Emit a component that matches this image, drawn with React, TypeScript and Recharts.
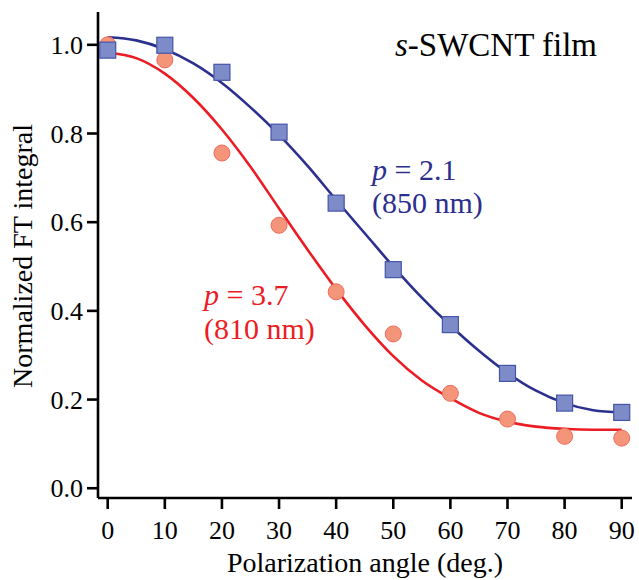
import React from 'react';
import { ComposedChart, XAxis, YAxis, Scatter, Line } from 'recharts';

// Measured data points (polarization angle in degrees)
const angles = [0, 10, 20, 30, 40, 50, 60, 70, 80, 90];
const blueValues = [0.988, 0.999, 0.938, 0.803, 0.643, 0.493, 0.369, 0.259, 0.192, 0.171];
const redValues = [1.0, 0.966, 0.756, 0.593, 0.443, 0.348, 0.214, 0.156, 0.117, 0.113];

// Fitted curves every 5 degrees
const fitAngles = [0, 5, 10, 15, 20, 25, 30, 35, 40, 45, 50, 55, 60, 65, 70, 75, 80, 85, 90];
const blueFit = [1.017, 1.01, 0.99, 0.958, 0.914, 0.859, 0.797, 0.727, 0.65, 0.575, 0.5, 0.43, 0.367, 0.31, 0.26, 0.22, 0.192, 0.176, 0.171];
const redFit = [0.982, 0.97, 0.935, 0.88, 0.809, 0.725, 0.631, 0.538, 0.449, 0.368, 0.298, 0.243, 0.203, 0.17, 0.15, 0.139, 0.134, 0.132, 0.132];

const xTicks = [0, 10, 20, 30, 40, 50, 60, 70, 80, 90];
const yTicks = [0, 0.2, 0.4, 0.6, 0.8, 1.0];

const FONT = 'Liberation Serif';
const BLUE_LINE = '#2b2f8e';
const RED_LINE = '#ec1c24';
const BLUE_FILL = '#7d8cc8';
const BLUE_EDGE = '#4654a8';
const RED_FILL = '#f4957a';
const RED_EDGE = '#ee6b5c';

const X_DOMAIN: [number, number] = [-1.7, 91.8];
const Y_DOMAIN: [number, number] = [-0.022, 1.074];

const SquareShape = (props: any) => {
  const { cx, cy } = props;
  if (cx == null || cy == null) return null;
  const s = 16;
  return <rect x={cx - s / 2} y={cy - s / 2} width={s} height={s} fill={BLUE_FILL} stroke={BLUE_EDGE} strokeWidth={1.2} />;
};

const CircleShape = (props: any) => {
  const { cx, cy } = props;
  if (cx == null || cy == null) return null;
  return <circle cx={cx} cy={cy} r={8} fill={RED_FILL} stroke={RED_EDGE} strokeWidth={1} />;
};

const XTick = (props: any) => {
  const { x, y, payload } = props;
  return (
    <text x={x} y={y} dy="0.71em" textAnchor="middle" fontFamily={FONT} fontSize={26} fill="#000">
      {String(payload.value)}
    </text>
  );
};

const YTick = (props: any) => {
  const { x, y, payload } = props;
  return (
    <text x={x} y={y} dy="0.355em" textAnchor="end" fontFamily={FONT} fontSize={26} fill="#000">
      {Number(payload.value).toFixed(1)}
    </text>
  );
};

export default function App() {
  const bluePts = angles.map((a, i) => ({ x: a, y: blueValues[i] }));
  const redPts = angles.map((a, i) => ({ x: a, y: redValues[i] }));
  const blueCurve = fitAngles.map((a, i) => ({ x: a, y: blueFit[i] }));
  const redCurve = fitAngles.map((a, i) => ({ x: a, y: redFit[i] }));

  const axisStroke = { stroke: '#000', strokeWidth: 2.6 };

  return (
    <div style={{ position: 'absolute', left: 0, top: 0, width: 639, height: 580, background: '#fff', fontFamily: FONT }}>
      <ComposedChart width={639} height={580} margin={{ top: 12, right: 7, bottom: 0, left: 0 }}>
        <XAxis
          xAxisId="b"
          type="number"
          dataKey="x"
          domain={X_DOMAIN}
          ticks={xTicks}
          allowDataOverflow
          height={82}
          tickSize={11}
          tickMargin={12}
          axisLine={axisStroke}
          tickLine={axisStroke}
          tick={<XTick />}
        />
        <XAxis
          xAxisId="t"
          orientation="top"
          type="number"
          dataKey="x"
          domain={X_DOMAIN}
          allowDataOverflow
          height={0}
          tick={false}
          tickLine={false}
          axisLine={axisStroke}
        />
        <YAxis
          yAxisId="l"
          type="number"
          dataKey="y"
          domain={Y_DOMAIN}
          ticks={yTicks}
          allowDataOverflow
          width={98}
          tickSize={11}
          tickMargin={4}
          axisLine={axisStroke}
          tickLine={axisStroke}
          tick={<YTick />}
        />
        <YAxis
          yAxisId="r"
          orientation="right"
          type="number"
          dataKey="y"
          domain={Y_DOMAIN}
          allowDataOverflow
          width={0}
          tick={false}
          tickLine={false}
          axisLine={axisStroke}
        />
        <Scatter xAxisId="b" yAxisId="l" data={redPts} shape={CircleShape} isAnimationActive={false} />
        <Scatter xAxisId="b" yAxisId="l" data={bluePts} shape={SquareShape} isAnimationActive={false} />
        <Line xAxisId="b" yAxisId="l" data={redCurve} dataKey="y" type="monotone" stroke={RED_LINE} strokeWidth={2.6} dot={false} activeDot={false} isAnimationActive={false} />
        <Line xAxisId="b" yAxisId="l" data={blueCurve} dataKey="y" type="monotone" stroke={BLUE_LINE} strokeWidth={2.6} dot={false} activeDot={false} isAnimationActive={false} />

        <text x={365} y={572} textAnchor="middle" fontFamily={FONT} fontSize={28} fill="#000">Polarization angle (deg.)</text>
        <text transform="translate(32,256) rotate(-90)" textAnchor="middle" fontFamily={FONT} fontSize={28} fill="#000">Normalized FT integral</text>
        <text x={395} y={56} fontFamily={FONT} fontSize={33} fill="#000">
          <tspan fontStyle="italic">s</tspan>-SWCNT film
        </text>
        <text x={372} y={180} fontFamily={FONT} fontSize={30} fill={BLUE_LINE}>
          <tspan fontStyle="italic">p</tspan> = 2.1
        </text>
        <text x={372} y={213} fontFamily={FONT} fontSize={30} fill={BLUE_LINE}>(850 nm)</text>
        <text x={204} y={305} fontFamily={FONT} fontSize={30} fill={RED_LINE}>
          <tspan fontStyle="italic">p</tspan> = 3.7
        </text>
        <text x={204} y={339} fontFamily={FONT} fontSize={30} fill={RED_LINE}>(810 nm)</text>
      </ComposedChart>
    </div>
  );
}
